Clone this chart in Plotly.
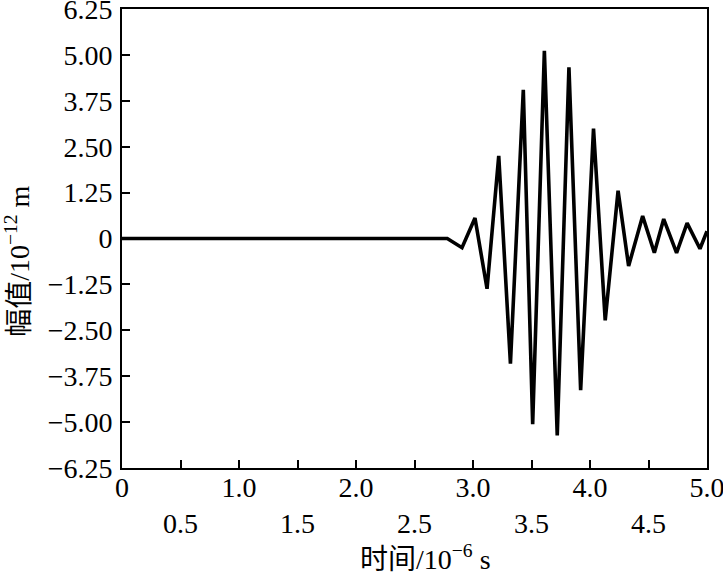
import plotly.graph_objects as go

# time in 10^-6 s, amplitude in 10^-12 m
time_us = [0.0, 2.78, 2.906, 3.017, 3.12, 3.22, 3.32, 3.43, 3.51, 3.61, 3.72,
           3.82, 3.92, 4.03, 4.13, 4.24, 4.33, 4.45, 4.55, 4.63, 4.74, 4.83,
           4.94, 5.0]
amp_pm = [0.0, 0.0, -0.25, 0.56, -1.37, 2.25, -3.41, 4.05, -5.06, 5.11, -5.36,
          4.66, -4.13, 2.99, -2.23, 1.30, -0.75, 0.61, -0.39, 0.53, -0.39, 0.42,
          -0.28, 0.2]

x_tick_vals = [0, 0.5, 1.0, 1.5, 2.0, 2.5, 3.0, 3.5, 4.0, 4.5, 5.0]
x_tick_text = ["0", "<br>0.5", "1.0", "<br>1.5", "2.0", "<br>2.5", "3.0",
               "<br>3.5", "4.0", "<br>4.5", "5.0"]
y_tick_vals = [6.25, 5.0, 3.75, 2.5, 1.25, 0, -1.25, -2.5, -3.75, -5.0, -6.25]
y_tick_text = ["6.25", "5.00", "3.75", "2.50", "1.25", "0", "\u22121.25",
               "\u22122.50", "\u22123.75", "\u22125.00", "\u22126.25"]

FONT = "Liberation Serif, Times New Roman, Noto Sans CJK SC, serif"
FS = 28

fig = go.Figure()
fig.add_trace(go.Scatter(x=time_us, y=amp_pm, mode="lines",
                         line=dict(color="black", width=3.6),
                         showlegend=False))

fig.update_layout(
    width=723, height=572,
    margin=dict(l=122, r=16, t=9, b=104),
    paper_bgcolor="white", plot_bgcolor="white",
    font=dict(family=FONT, size=FS, color="black"),
    xaxis=dict(range=[0, 5], tickvals=x_tick_vals, ticktext=x_tick_text,
               ticks="inside", ticklen=8, tickwidth=1.5, tickcolor="black",
               showline=True, linecolor="black", linewidth=1.8, mirror=True,
               showgrid=False, zeroline=False, tickangle=0, automargin=False,
               ticklabeloverflow="allow", ticklabelstandoff=-7,
               tickfont=dict(family=FONT, size=FS)),
    yaxis=dict(range=[-6.25, 6.25], tickvals=y_tick_vals, ticktext=y_tick_text,
               ticks="inside", ticklen=8, tickwidth=1.5, tickcolor="black",
               showline=True, linecolor="black", linewidth=1.8, mirror=True,
               showgrid=False, zeroline=False, ticklabelstandoff=2,
               automargin=False, ticklabeloverflow="allow",
               tickfont=dict(family=FONT, size=FS)),
    annotations=[
        dict(text="时间/10<sup>\u22126</sup> s", xref="paper", yref="paper",
             x=0.518, y=-0.194, xanchor="center", yanchor="middle",
             showarrow=False, font=dict(family=FONT, size=FS)),
        dict(text="幅值/10<sup>\u221212</sup> m", xref="paper", yref="paper",
             x=-0.178, y=0.451, xanchor="center", yanchor="middle",
             textangle=-90, showarrow=False, font=dict(family=FONT, size=FS)),
    ],
)

fig.write_html("out.html",
               config={"displayModeBar": False},
               post_script="document.body.style.margin='0';"
                           "document.body.style.overflow='hidden';")
